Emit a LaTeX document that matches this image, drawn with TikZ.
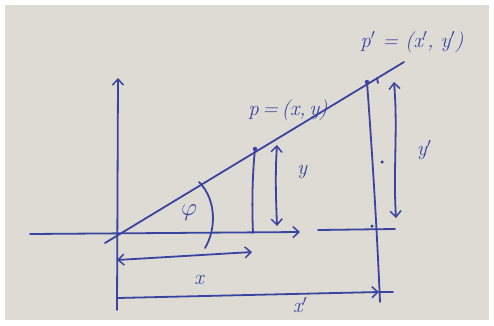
\documentclass[tikz,border=0pt]{standalone}
\usetikzlibrary{arrows.meta}
\definecolor{ink}{RGB}{58,68,160}
\definecolor{paper}{RGB}{221,219,212}
\begin{document}
\begin{tikzpicture}[x=1pt,y=-1pt,
  pen/.style={draw=ink,line width=1.8pt,line cap=round},
  tip/.style={-{Straight Barb[length=6pt,width=11pt,line width=1.5pt]}},
  twotip/.style={{Straight Barb[length=6pt,width=11pt,line width=1.5pt]}-{Straight Barb[length=6pt,width=11pt,line width=1.5pt]}},
  lbl/.style={text=ink,font=\fontsize{21}{23}\selectfont\itshape,inner sep=0pt},
  dotpt/.style={circle,fill=ink,inner sep=0pt,minimum size=4.5pt}]
\useasboundingbox (0,0) rectangle (494,325);
\fill[white] (0,0) rectangle (494,325);
\fill[paper] (5,5) rectangle (489,320);
% points
\coordinate (O) at (117,235);
\coordinate (vbot) at (117,310);
\coordinate (vtop) at (118,78);
\coordinate (hl) at (30,234);
\coordinate (hr) at (300,232);
\coordinate (h2l) at (318,230);
\coordinate (h2r) at (395,229);
\coordinate (rs) at (105,243);
\coordinate (re) at (404,62);
\node[dotpt] (P) at (255,149) {};
\coordinate (Pb) at (253,233);
\node[dotpt] (Pp) at (367,82) {};
\coordinate (Ppb) at (380,302);
% axes
\draw[pen,tip] (vbot) -- (vtop);
\draw[pen,tip] (hl) -- (hr);
\draw[pen] (h2l) -- (h2r);
\draw[pen] (rs) -- (re);
% verticals
\draw[pen] (P) .. controls (252,180) and (252,210) .. (Pb);
\draw[pen] (Pp) .. controls (372,150) and (377,230) .. (Ppb);
\draw[pen] (377,78) -- (378,83);
% y arrows
\coordinate (ya) at (277,145);
\coordinate (yb) at (277,226);
\draw[pen,twotip] (ya) .. controls (275,175) and (276,200) .. (yb);
\coordinate (ypa) at (394,82);
\coordinate (ypb) at (396,218);
\draw[pen,twotip] (ypa) .. controls (398,130) and (393,170) .. (ypb);
% x arrows
\coordinate (xa) at (117,260);
\coordinate (xb) at (252,252);
\draw[pen,twotip] (xa) -- (xb);
\coordinate (xpa) at (117,298);
\coordinate (xpb) at (379,292);
\coordinate (xpc) at (393,292);
\draw[pen,tip] (xpa) -- (xpb);
\draw[pen] (xpb) -- (xpc);
% angle
\coordinate (a1) at (199,182);
\coordinate (a2) at (205,248);
\draw[pen] (a1) .. controls (217,200) and (216,230) .. (a2);
% small dots
\node[dotpt,minimum size=3.5pt] (d1) at (382,162) {};
\node[dotpt,minimum size=3.5pt] (d2) at (372,226) {};
% labels
\node[lbl] (lp) at (288,110) {p\,=\,(x,\,y)};
\node[lbl] (lpp) at (412,42) {p$'$\,\,=\,\,(x$'$,\,\,y$'$)};
\node[lbl] (ly) at (302,172) {y};
\node[lbl] (lyp) at (424,150) {y$'$};
\node[lbl] (lx) at (199,280) {x};
\node[lbl] (lxp) at (300,305) {x$'$};
\node[lbl,font=\fontsize{24}{26}\selectfont] (lphi) at (189,213) {$\varphi$};
\end{tikzpicture}
\end{document}
